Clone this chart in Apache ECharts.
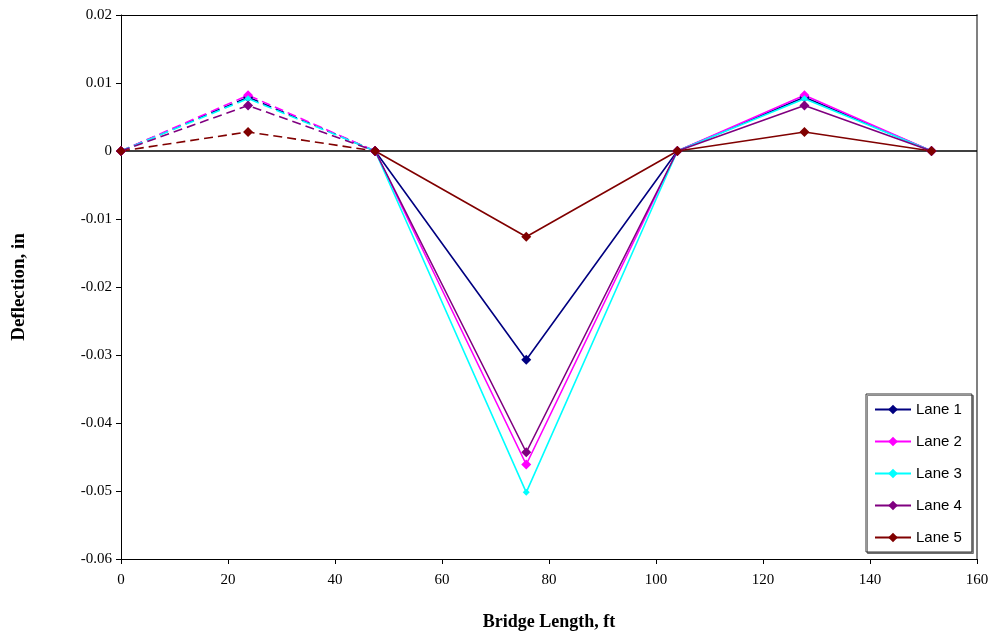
<!DOCTYPE html>
<html>
<head>
<meta charset="utf-8">
<script src="https://cdn.jsdelivr.net/npm/echarts@6/dist/echarts.min.js"></script>
<style>html,body{margin:0;padding:0;background:#fff}#c{width:992px;height:636px}</style>
</head>
<body>
<div id="c"></div>
<script>
const xs = [0, 23.75, 47.5, 75.75, 104, 127.75, 151.5];
const laneNames = ['Lane 1', 'Lane 2', 'Lane 3', 'Lane 4', 'Lane 5'];
const lane1 = [0, 0.0079, 0, -0.0307, 0, 0.0079, 0];
const lane2 = [0, 0.0082, 0, -0.0461, 0, 0.0082, 0];
const lane3 = [0, 0.0077, 0, -0.0502, 0, 0.0077, 0];
const lane4 = [0, 0.0067, 0, -0.0443, 0, 0.0067, 0];
const lane5 = [0, 0.0028, 0, -0.0126, 0, 0.0028, 0];
const colors = ['#000080', '#FF00FF', '#00FFFF', '#800080', '#800000'];
const symbolSizes = [10, 10, 7, 10, 10];
const lanes = [lane1, lane2, lane3, lane4, lane5];
const dashedEnd = 2; // first span drawn dashed

const series = [];
lanes.forEach((vals, i) => {
  const pts = xs.map((x, k) => [x, vals[k]]);
  series.push({
    name: laneNames[i] + ' ',
    type: 'line',
    data: pts.slice(0, dashedEnd + 1),
    symbol: 'diamond', symbolSize: symbolSizes[i],
    itemStyle: {color: colors[i]},
    lineStyle: {color: colors[i], width: 1.6, type: [9, 5]},
    animation: false, z: 3
  });
});
lanes.forEach((vals, i) => {
  const pts = xs.map((x, k) => [x, vals[k]]);
  series.push({
    name: laneNames[i],
    type: 'line',
    data: pts.slice(dashedEnd),
    symbol: 'diamond', symbolSize: symbolSizes[i],
    itemStyle: {color: colors[i]},
    lineStyle: {color: colors[i], width: 1.6},
    animation: false, z: 3
  });
});
series[0].markLine = {
  silent: true, symbol: 'none', label: {show: false},
  lineStyle: {color: '#000', width: 1.5, type: 'solid'},
  data: [{yAxis: 0}], z: 2, animation: false
};

const chart = echarts.init(document.getElementById('c'), null, {renderer: 'canvas'});
chart.setOption({
  backgroundColor: '#fff',
  animation: false,
  grid: {left: 121, right: 15, top: 15, bottom: 74, show: false},
  legend: {
    data: laneNames,
    orient: 'vertical',
    left: 866, top: 394,
    padding: [8, 10, 7, 8],
    itemWidth: 36, itemHeight: 12, itemGap: 17,
    backgroundColor: '#fff',
    borderColor: '#333', borderWidth: 1,
    shadowColor: 'rgba(0,0,0,0.45)', shadowOffsetX: 1.5, shadowOffsetY: 1.5,
    textStyle: {fontFamily: 'Liberation Sans', fontSize: 15, color: '#000'}
  },
  xAxis: [{
    type: 'value', min: 0, max: 160, interval: 20,
    position: 'bottom',
    axisLine: {onZero: false, lineStyle: {color: '#000', width: 1}},
    axisTick: {show: true, inside: false, length: 5, lineStyle: {color: '#000'}},
    splitLine: {show: false},
    axisLabel: {fontFamily: 'Liberation Serif', fontSize: 15, color: '#000', margin: 14},
    name: 'Bridge Length, ft', nameLocation: 'middle', nameGap: 54,
    nameTextStyle: {fontFamily: 'Liberation Serif', fontSize: 18, fontWeight: 'bold', color: '#000'}
  }, {
    type: 'value', min: 0, max: 160, position: 'top',
    axisLine: {show: true, onZero: false, lineStyle: {color: '#000', width: 1}},
    axisTick: {show: false}, axisLabel: {show: false}, splitLine: {show: false}
  }],
  yAxis: [{
    type: 'value', min: -0.06, max: 0.02, interval: 0.01,
    axisLine: {show: true, onZero: false, lineStyle: {color: '#000', width: 1}},
    axisTick: {show: true, inside: false, length: 5, lineStyle: {color: '#000'}},
    splitLine: {show: false},
    axisLabel: {
      fontFamily: 'Liberation Serif', fontSize: 15, color: '#000', margin: 9,
      formatter: v => String(Number(v.toFixed(2)))
    },
    name: 'Deflection, in', nameLocation: 'middle', nameGap: 92,
    nameTextStyle: {fontFamily: 'Liberation Serif', fontSize: 19, fontWeight: 'bold', color: '#000'}
  }, {
    type: 'value', min: -0.06, max: 0.02, position: 'right',
    axisLine: {show: true, onZero: false, lineStyle: {color: '#808080', width: 2}},
    axisTick: {show: false}, axisLabel: {show: false}, splitLine: {show: false}
  }],
  series: series
});
</script>
</body>
</html>
